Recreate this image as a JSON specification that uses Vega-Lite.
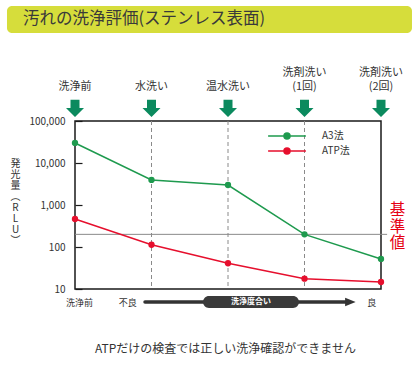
{
  "$schema": "https://vega.github.io/schema/vega-lite/v6.json",
  "autosize": {"type": "none"},
  "width": 306,
  "height": 168,
  "padding": {"left": 75, "top": 121, "right": 39, "bottom": 78},
  "background": "white",
  "config": {
    "font": "Noto Sans CJK JP",
    "view": {"stroke": "#1a1a1a", "strokeWidth": 1.5}
  },
  "data": {"values": [{}]},
  "datasets": {
    "series": [
      {"step": 0, "method": "A3法", "rlu": 30000},
      {"step": 1, "method": "A3法", "rlu": 3950},
      {"step": 2, "method": "A3法", "rlu": 2990},
      {"step": 3, "method": "A3法", "rlu": 200},
      {"step": 4, "method": "A3法", "rlu": 52},
      {"step": 0, "method": "ATP法", "rlu": 465},
      {"step": 1, "method": "ATP法", "rlu": 113},
      {"step": 2, "method": "ATP法", "rlu": 41},
      {"step": 3, "method": "ATP法", "rlu": 17.6},
      {"step": 4, "method": "ATP法", "rlu": 14.7}
    ],
    "steps": [
      {"step": 0, "line1": "", "line2": "洗浄前"},
      {"step": 1, "line1": "", "line2": "水洗い"},
      {"step": 2, "line1": "", "line2": "温水洗い"},
      {"step": 3, "line1": "洗剤洗い", "line2": "(1回)"},
      {"step": 4, "line1": "洗剤洗い", "line2": "(2回)"}
    ]
  },
  "layer": [
    {
      "mark": {"type": "rect", "fill": "#d6dd3b", "cornerRadius": 5, "clip": false},
      "encoding": {
        "x": {"datum": -0.889, "type": "quantitative", "scale": {"domain": [0, 4], "nice": false, "zero": false}, "axis": null},
        "x2": {"datum": 4.405},
        "y": {
          "datum": 54700000, "type": "quantitative",
          "scale": {"type": "log", "domain": [10, 100000], "nice": false},
          "axis": {
            "values": [10, 100, 1000, 10000, 100000],
            "format": ",",
            "labelFontSize": 10,
            "labelColor": "#333333",
            "tickSize": -7,
            "tickColor": "#1a1a1a",
            "tickWidth": 1.2,
            "labelPadding": 17,
            "domain": false,
            "grid": false,
            "title": ["発", "光", "量", "︵", "R", "L", "U", "︶"],
            "titleAngle": 0,
            "titleX": -60,
            "titleY": 42,
            "titleFontSize": 10,
            "titleLineHeight": 11,
            "titleColor": "#333333",
            "titleFontWeight": "normal",
            "titleAlign": "center",
            "titleBaseline": "middle"
          }
        },
        "y2": {"datum": 12450000}
      }
    },
    {
      "mark": {"type": "text", "text": "汚れの洗浄評価(ステンレス表面)", "align": "left", "baseline": "middle", "fontSize": 16.5, "color": "#3a3a3a", "clip": false},
      "encoding": {
        "x": {"datum": -0.68, "type": "quantitative", "axis": null},
        "y": {"datum": 26800000, "type": "quantitative"}
      }
    },
    {
      "data": {"name": "steps"},
      "mark": {"type": "text", "align": "center", "baseline": "middle", "fontSize": 11, "color": "#333333", "clip": false},
      "encoding": {
        "x": {"field": "step", "type": "quantitative", "axis": null},
        "y": {"datum": 645000, "type": "quantitative"},
        "text": {"field": "line2"}
      }
    },
    {
      "data": {"name": "steps"},
      "mark": {"type": "text", "align": "center", "baseline": "middle", "fontSize": 11, "color": "#333333", "clip": false},
      "encoding": {
        "x": {"field": "step", "type": "quantitative", "axis": null},
        "y": {"datum": 1400000, "type": "quantitative"},
        "text": {"field": "line1"}
      }
    },
    {
      "data": {"name": "steps"},
      "mark": {"type": "point", "shape": "M-0.5,-0.95L0.5,-0.95L0.5,-0.05L1,-0.05L0,0.95L-1,-0.05L-0.5,-0.05Z", "size": 324, "filled": true, "fill": "#0b8a5e", "opacity": 1, "strokeWidth": 0, "clip": false},
      "encoding": {
        "x": {"field": "step", "type": "quantitative", "axis": null},
        "y": {"datum": 200000, "type": "quantitative"}
      }
    },
    {
      "data": {"name": "steps"},
      "transform": [{"filter": "datum.step >= 1 && datum.step <= 3"}],
      "mark": {"type": "rule", "color": "#8a8a8a", "strokeWidth": 1, "strokeDash": [4, 3]},
      "encoding": {
        "x": {"field": "step", "type": "quantitative", "axis": null}
      }
    },
    {
      "mark": {"type": "rule", "color": "#8a8a8a", "strokeWidth": 1, "clip": false},
      "encoding": {
        "x": {"datum": 0, "type": "quantitative", "axis": null},
        "x2": {"datum": 4.08},
        "y": {"datum": 200, "type": "quantitative"}
      }
    },
    {
      "data": {"name": "series"},
      "mark": {"type": "line", "strokeWidth": 1.5},
      "encoding": {
        "x": {"field": "step", "type": "quantitative", "axis": null},
        "y": {"field": "rlu", "type": "quantitative"},
        "color": {
          "field": "method", "type": "nominal",
          "scale": {"domain": ["A3法", "ATP法"], "range": ["#1e9a4e", "#e60f2d"]},
          "legend": {
            "title": null,
            "orient": "none",
            "legendX": 207,
            "legendY": 10,
            "symbolType": "M-6.3,0H6.3M-1,0A1,1,0,1,0,1,0A1,1,0,1,0,-1,0Z",
            "symbolSize": 36,
            "symbolStrokeWidth": 1.5,
            "labelFontSize": 10,
            "labelColor": "#333333",
            "labelOffset": 30,
            "rowPadding": 3,
            "padding": 0,
            "encode": {"symbols": {"update": {"fill": {"scale": "color", "field": "value"}, "stroke": {"scale": "color", "field": "value"}, "opacity": {"value": 1}}}}
          }
        }
      }
    },
    {
      "data": {"name": "series"},
      "mark": {"type": "point", "filled": true, "size": 40, "opacity": 1},
      "encoding": {
        "x": {"field": "step", "type": "quantitative", "axis": null},
        "y": {"field": "rlu", "type": "quantitative"},
        "color": {"field": "method", "type": "nominal", "legend": null}
      }
    },
    {
      "mark": {"type": "text", "text": ["基", "準", "値"], "align": "center", "baseline": "middle", "fontSize": 15.5, "lineHeight": 16.5, "color": "#e60012", "clip": false},
      "encoding": {
        "x": {"datum": 4.215, "type": "quantitative", "axis": null},
        "y": {"datum": 760, "type": "quantitative"}
      }
    },
    {
      "mark": {"type": "text", "text": "洗浄前", "align": "center", "baseline": "middle", "fontSize": 9, "color": "#333333", "clip": false},
      "encoding": {
        "x": {"datum": 0.06, "type": "quantitative", "axis": null},
        "y": {"datum": 4.72, "type": "quantitative"}
      }
    },
    {
      "mark": {"type": "text", "text": "不良", "align": "center", "baseline": "middle", "fontSize": 9, "color": "#333333", "clip": false},
      "encoding": {
        "x": {"datum": 0.69, "type": "quantitative", "axis": null},
        "y": {"datum": 4.72, "type": "quantitative"}
      }
    },
    {
      "mark": {"type": "text", "text": "良", "align": "center", "baseline": "middle", "fontSize": 9, "color": "#333333", "clip": false},
      "encoding": {
        "x": {"datum": 3.88, "type": "quantitative", "axis": null},
        "y": {"datum": 4.72, "type": "quantitative"}
      }
    },
    {
      "mark": {"type": "rule", "color": "#333333", "strokeWidth": 3.5, "strokeCap": "round", "clip": false},
      "encoding": {
        "x": {"datum": 0.915, "type": "quantitative", "axis": null},
        "x2": {"datum": 3.55},
        "y": {"datum": 4.9, "type": "quantitative"}
      }
    },
    {
      "mark": {"type": "point", "shape": "M1,0L-1,-0.8L-1,0.8Z", "size": 110, "filled": true, "fill": "#333333", "opacity": 1, "strokeWidth": 0, "clip": false},
      "encoding": {
        "x": {"datum": 3.6, "type": "quantitative", "axis": null},
        "y": {"datum": 4.9, "type": "quantitative"}
      }
    },
    {
      "mark": {"type": "rect", "fill": "#3a3a3a", "cornerRadius": 6, "clip": false},
      "encoding": {
        "x": {"datum": 1.673, "type": "quantitative", "axis": null},
        "x2": {"datum": 2.928},
        "y": {"datum": 6.81, "type": "quantitative"},
        "y2": {"datum": 3.53}
      }
    },
    {
      "mark": {"type": "text", "text": "洗浄度合い", "align": "center", "baseline": "middle", "fontSize": 8, "fontWeight": "bold", "color": "white", "clip": false},
      "encoding": {
        "x": {"datum": 2.3, "type": "quantitative", "axis": null},
        "y": {"datum": 4.9, "type": "quantitative"}
      }
    },
    {
      "mark": {"type": "text", "text": "ATPだけの検査では正しい洗浄確認ができません", "align": "center", "baseline": "middle", "fontSize": 12, "color": "#333333", "clip": false},
      "encoding": {
        "x": {"datum": 1.967, "type": "quantitative", "axis": null},
        "y": {"datum": 0.3727, "type": "quantitative"}
      }
    }
  ]
}
